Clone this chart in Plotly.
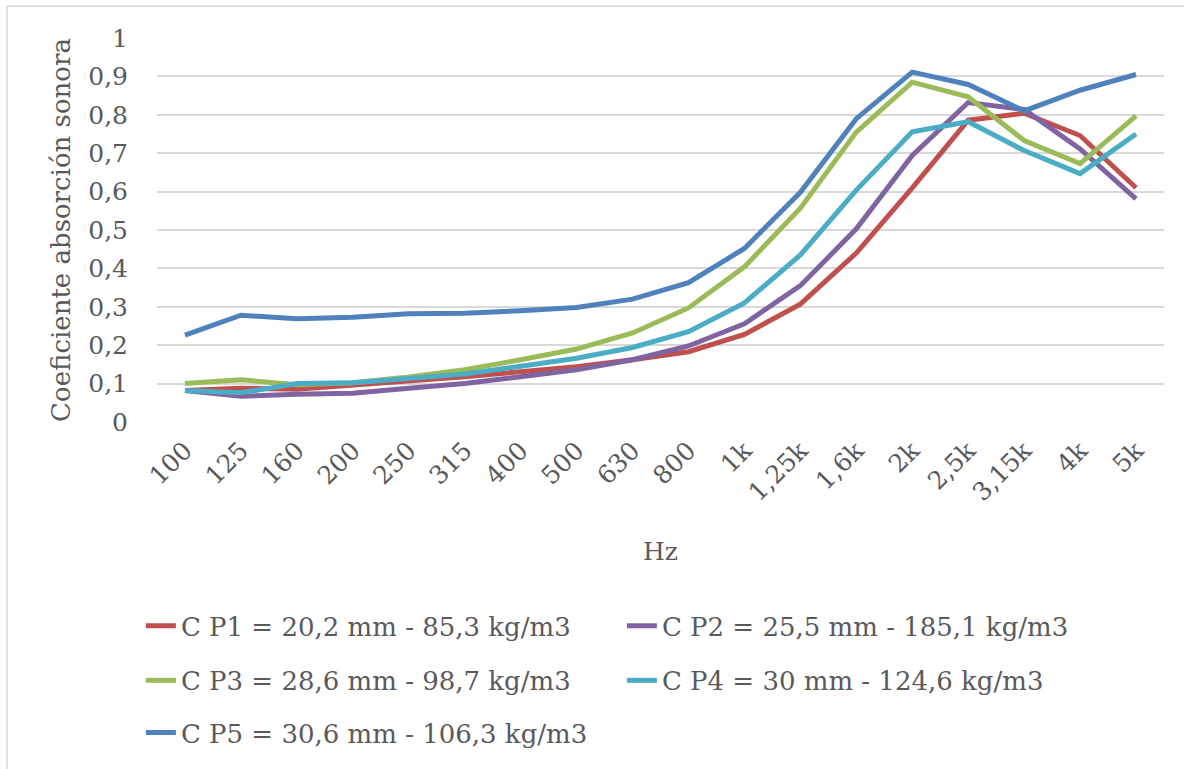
import plotly.graph_objects as go

categories = ["100", "125", "160", "200", "250", "315", "400", "500", "630", "800",
              "1k", "1,25k", "1,6k", "2k", "2,5k", "3,15k", "4k", "5k"]

p1 = [0.082, 0.088, 0.085, 0.095, 0.107, 0.118, 0.131, 0.144, 0.162, 0.183,
      0.228, 0.307, 0.440, 0.610, 0.786, 0.804, 0.746, 0.610]
p2 = [0.082, 0.067, 0.072, 0.075, 0.088, 0.100, 0.118, 0.136, 0.162, 0.198,
      0.256, 0.355, 0.503, 0.694, 0.832, 0.814, 0.711, 0.581]
p3 = [0.100, 0.110, 0.097, 0.102, 0.117, 0.136, 0.162, 0.190, 0.232, 0.297,
      0.404, 0.557, 0.755, 0.885, 0.847, 0.733, 0.673, 0.797]
p4 = [0.082, 0.076, 0.100, 0.102, 0.113, 0.125, 0.145, 0.166, 0.194, 0.235,
      0.310, 0.435, 0.604, 0.756, 0.782, 0.707, 0.647, 0.750]
p5 = [0.226, 0.278, 0.269, 0.273, 0.282, 0.283, 0.290, 0.298, 0.320, 0.363,
      0.452, 0.598, 0.790, 0.911, 0.879, 0.810, 0.864, 0.905]

names = ["C P1 = 20,2 mm - 85,3 kg/m3", "C P2 = 25,5 mm - 185,1 kg/m3",
         "C P3 = 28,6 mm - 98,7 kg/m3", "C P4 = 30 mm - 124,6 kg/m3",
         "C P5 = 30,6 mm - 106,3 kg/m3"]
colors = ["#C0504D", "#8064A2", "#9BBB59", "#4BACC6", "#4F81BD"]
legends = ["legend", "legend", "legend2", "legend2", "legend3"]

y_ticks = [0, 0.1, 0.2, 0.3, 0.4, 0.5, 0.6, 0.7, 0.8, 0.9, 1]
y_labels = ["0", "0,1", "0,2", "0,3", "0,4", "0,5", "0,6", "0,7", "0,8", "0,9", "1"]

FONT = "DejaVu Serif"
TXT = "#595959"

fig = go.Figure()
for vals, name, col, lg in zip([p1, p2, p3, p4, p5], names, colors, legends):
    fig.add_trace(go.Scatter(x=categories, y=vals, mode="lines", name=name,
                             line=dict(color=col, width=5), legend=lg))

leg_common = dict(orientation="h", xanchor="left", yanchor="middle",
                  font=dict(family=FONT, size=26, color=TXT),
                  entrywidth=436, entrywidthmode="pixels",
                  bgcolor="rgba(0,0,0,0)")

fig.update_layout(
    width=1184, height=769,
    margin=dict(l=157, r=20, t=38, b=343),
    paper_bgcolor="white", plot_bgcolor="white",
    font=dict(family=FONT, color=TXT),
    showlegend=True,
    legend=dict(x=-0.016, y=-0.531, **leg_common),
    legend2=dict(x=-0.016, y=-0.673, **leg_common),
    legend3=dict(x=-0.016, y=-0.809, **leg_common),
    xaxis=dict(type="category", range=[-0.5, 17.5], tickangle=-45,
               showgrid=False, showline=False, ticks="",
               tickfont=dict(family=FONT, size=25, color=TXT),
               ticklabelstandoff=8,
               title=dict(text="Hz", font=dict(family=FONT, size=25, color=TXT),
                          standoff=36)),
    yaxis=dict(range=[0, 1], tickvals=y_ticks, ticktext=y_labels,
               showgrid=True, gridcolor="#D9D9D9", gridwidth=1.5,
               zeroline=False, showline=False, ticks="",
               tickfont=dict(family=FONT, size=25, color=TXT),
               ticklabelstandoff=28,
               title=dict(text="Coeficiente absorción sonora",
                          font=dict(family=FONT, size=26, color=TXT),
                          standoff=10)),
    shapes=[dict(type="rect", xref="paper", yref="paper",
                 x0=-0.149, x1=1.03, y0=-0.92, y1=1.0825,
                 line=dict(color="#D9D9D9", width=1.5), layer="below")],
)

fig.write_html("out.html")
